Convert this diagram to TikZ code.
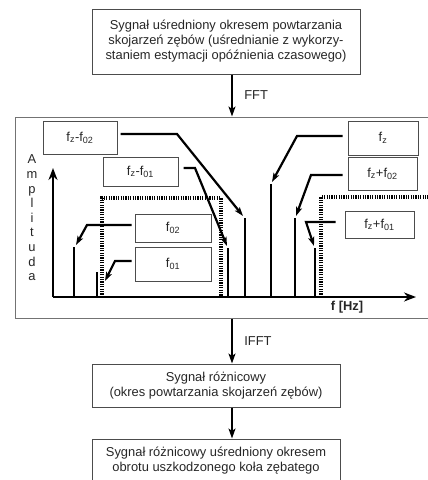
\documentclass[tikz,border=0pt]{standalone}
\usepackage{fontspec}
\setmainfont{Liberation Sans}
\usetikzlibrary{arrows.meta,calc}

\tikzset{
  blok/.style={draw=black!70,line width=1pt,text=black!85,align=center,inner sep=0pt},
  etykieta/.style={draw=black!70,line width=1pt,text=black!85,inner sep=0pt},
  przeplyw/.style={line width=2pt,-{Stealth[length=10pt,width=7pt,inset=2.5pt]}},
  wskaz/.style={line width=2.2pt,-{Stealth[length=9pt,width=6pt,inset=2pt]}},
  prazek/.style={line width=2.4pt},
  okno/.style={line width=3.4pt,dash pattern=on 1.2pt off 1.2pt},
  os/.style={line width=2.8pt,-{Stealth[length=12pt,width=9pt]}}
}

\begin{document}
\begin{tikzpicture}[x=1pt,y=-1pt,font=\fontsize{12.9}{15}\selectfont]
\useasboundingbox (0,0) rectangle (428,480);
\begin{scope}
\clip (0,0) rectangle (428,480);
\node[blok,minimum width=268,minimum height=65] (syg) at (226,41.5) {Sygnał uśredniony okresem powtarzania\\ skojarzeń zębów (uśrednianie z wykorzy-\\ staniem estymacji opóźnienia czasowego)};
\node[draw=black!55,line width=1pt,minimum width=417,minimum height=201,inner sep=0pt] (widmo) at (223.5,217.5) {};
\node[blok,minimum width=248,minimum height=43] (roz) at (216,385.5) {Sygnał różnicowy\\ (okres powtarzania skojarzeń zębów)};
\node[blok,minimum width=248,minimum height=43] (sred) at (216,460.5) {Sygnał różnicowy uśredniony okresem\\ obrotu uszkodzonego koła zębatego};
\end{scope}
\coordinate (ax) at (232,0);
\draw[przeplyw] (syg.south -| ax) -- (widmo.north -| ax) node[midway,right=8pt,text=black!85] {FFT};
\draw[przeplyw] (widmo.south -| ax) -- (roz.north -| ax) node[midway,right=8pt,text=black!85] {IFFT};
\draw[przeplyw] (roz.south -| ax) -- (sred.north -| ax);

% osie
\coordinate (O) at (53,297);
\draw[os] (O) -- (53,168);
\draw[os] (O) -- (416,297);
\node[text=black!85,align=center,font=\fontsize{12.9}{14.6}\selectfont] (amp) at (32,218) {A\\ m\\ p\\ l\\ i\\ t\\ u\\ d\\ a};
\node[text=black!85,font=\fontsize{12.9}{15}\selectfont\bfseries] (hz) at (347,307) {f [Hz]};

% okna
\draw[okno] (102,297) -- (102,198) -- (221,198) -- (221,297);
\draw[okno] (321,297) -- (321,197) -- (432,197);

% prazki
\foreach \nm/\x/\h in {p02/74/247, p01/97/272, pm01/228/248, pm02/245/218, pz/271/184, pp02/295/218, pp01/315/248}
  \draw[prazek] (\x,297) -- (\x,\h) coordinate (\nm);

% etykiety
\node[etykieta,minimum width=74,minimum height=33] (zm02) at (80,137.5) {f\textsubscript{z}-f\textsubscript{02}};
\node[etykieta,minimum width=75,minimum height=29] (zm01) at (140.5,171.5) {f\textsubscript{z}-f\textsubscript{01}};
\node[etykieta,minimum width=76,minimum height=28] (e02) at (173,228) {f\textsubscript{02}};
\node[etykieta,minimum width=76,minimum height=34] (e01) at (173,264) {f\textsubscript{01}};
\node[etykieta,minimum width=70,minimum height=34] (ez) at (383,138) {f\textsubscript{z}};
\node[etykieta,minimum width=69,minimum height=33] (zp02) at (382.5,173.5) {f\textsubscript{z}+f\textsubscript{02}};
\node[etykieta,minimum width=69,minimum height=27] (zp01) at (379.5,224.5) {f\textsubscript{z}+f\textsubscript{01}};

\draw[wskaz] ([xshift=3]zm02.east |- 0,134) -- (177,134) -- ([shift={(-2,-2)}]pm02);
\draw[wskaz] ([xshift=5]zm01.east |- 0,168) -- (195,168) -- ([shift={(-1,-2)}]pm01);
\draw[wskaz] ([xshift=-3]e02.west |- 0,225) -- (87,225) -- ([shift={(2,-2)}]p02);
\draw[wskaz] ([xshift=-3]e01.west |- 0,261) -- (115,261) -- (105,281);
\draw[wskaz] ([xshift=-5]ez.west |- 0,136) -- (297,136) -- ([shift={(1,-2)}]pz);
\draw[wskaz] ([xshift=-5]zp02.west |- 0,175) -- (311,175) -- ([shift={(1,-2)}]pp02);
\draw[wskaz] ([xshift=-9]zp01.west |- 0,222) -- (306,222) -- ([shift={(-1,-2)}]pp01);
\end{tikzpicture}
\end{document}
